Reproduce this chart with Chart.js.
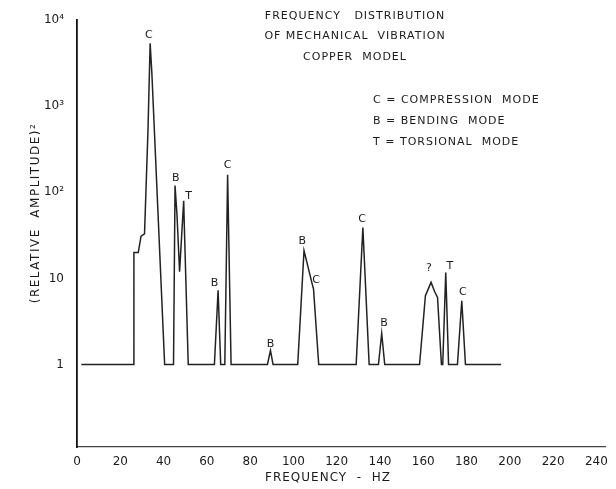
<!DOCTYPE html>
<html>
<head>
<meta charset="utf-8">
<script src="https://cdn.jsdelivr.net/npm/chart.js@4"></script>
<style>
  html, body { margin: 0; padding: 0; background: #fff; }
</style>
</head>
<body>
<canvas id="vibChart" width="616" height="489"></canvas>
<script>
// spectrum trace (Hz, relative amplitude squared)
const freqHz = [2, 26, 26.3, 28.3, 29.6, 31.2, 32.8, 33.8, 34.6, 40.5,
                44.6, 45.3, 46.2, 47.4, 49.3, 49.6, 51.4,
                63.5, 65.2, 66.4, 68.3, 69.6, 71.2,
                88.0, 89.4, 90.6,
                102.0, 104.9, 108.5, 109.3, 111.7,
                129.0, 132.1, 135.0,
                139.3, 140.8, 142.2,
                158.3, 161.0, 163.6, 165.3, 166.6, 168.4,
                169.0, 170.4, 171.7,
                175.8, 177.8, 179.5,
                196.0];
const relAmp = [1, 1, 20, 20, 31, 33, 525, 5400, 2400, 1,
                1, 120, 55, 12, 80, 40, 1,
                1, 7.3, 1, 1, 160, 1,
                1, 1.45, 1,
                1, 21, 9, 7.5, 1,
                1, 39, 1,
                1, 2.3, 1,
                1, 6.3, 9, 7, 6, 1,
                1, 11.7, 1,
                1, 5.5, 1,
                1];

const xTicks = [0, 20, 40, 60, 80, 100, 120, 140, 160, 180, 200, 220, 240];
const yTicks = [1, 10, 100, 1000, 10000];
const yTickText = ['1', '10', '10\u00b2', '10\u00b3', '10\u2074'];

// mode letters and where they sit (data units)
const peakNames = ['C', 'B', 'T', 'B', 'C', 'B', 'B', 'C', 'C', 'B', '?', 'T', 'C'];
const peakFreq  = [33.2, 45.6, 51.6, 63.6, 69.6, 89.4, 104.1, 110.5, 131.7, 141.9, 162.6, 172.3, 178.3];
const peakAmp   = [6700, 145, 90, 8.7, 206, 1.71, 27, 9.5, 48.5, 3.0, 13, 13.8, 6.9];

const titleLines = ['FREQUENCY   DISTRIBUTION', 'OF MECHANICAL  VIBRATION', 'COPPER  MODEL'];
const legendLines = ['C = COMPRESSION  MODE', 'B = BENDING  MODE', 'T = TORSIONAL  MODE'];

const ink = '#1b1b1b';
const font = '"DejaVu Sans", sans-serif';

const textLayer = {
    id: 'textLayer',
    afterDraw(chart) {
        const ctx = chart.ctx;
        const x = chart.scales.x;
        const y = chart.scales.y;
        ctx.save();
        ctx.fillStyle = ink;
        ctx.textBaseline = 'middle';

        ctx.font = '11px ' + font;
        ctx.textAlign = 'center';
        peakNames.forEach(function(n, i) {
            ctx.fillText(n, x.getPixelForValue(peakFreq[i]), y.getPixelForValue(peakAmp[i]));
        });

        ctx.letterSpacing = '1px';
        titleLines.forEach(function(t, i) {
            ctx.fillText(t, 355, 16 + i * 20.5);
        });

        ctx.textAlign = 'left';
        legendLines.forEach(function(t, i) {
            ctx.fillText(t, 373, 100 + i * 21);
        });

        // axis titles
        ctx.font = '12px ' + font;
        ctx.textAlign = 'center';
        ctx.fillText('FREQUENCY  -  HZ', 328, 478);

        ctx.translate(36, 213);
        ctx.rotate(-Math.PI / 2);
        ctx.letterSpacing = '1.5px';
        ctx.fillText('(RELATIVE  AMPLITUDE)\u00b2', 0, 0);
        ctx.restore();
    }
};

new Chart(document.getElementById('vibChart').getContext('2d'), {
    type: 'line',
    data: {
        datasets: [{
            data: freqHz.map(function(f, i) { return { x: f, y: relAmp[i] }; }),
            borderColor: '#222',
            borderWidth: 1.5,
            pointRadius: 0,
            tension: 0,
            fill: false
        }]
    },
    options: {
        responsive: false,
        animation: false,
        devicePixelRatio: 1,
        layout: { padding: { left: 0, right: 10, top: 20, bottom: 0 } },
        plugins: {
            legend: { display: false },
            tooltip: { enabled: false }
        },
        scales: {
            x: {
                type: 'linear',
                min: 0,
                max: 244.2,
                afterBuildTicks: function(scale) {
                    scale.ticks = xTicks.map(function(v) { return { value: v }; });
                },
                afterFit: function(scale) { scale.height = 42; },
                grid: { display: false, drawTicks: false },
                border: { display: true, color: '#444', width: 1.2 },
                ticks: {
                    color: ink,
                    padding: 8,
                    maxRotation: 0,
                    font: { family: font, size: 12 }
                }
            },
            y: {
                type: 'logarithmic',
                min: 0.11,
                max: 10000,
                afterBuildTicks: function(scale) {
                    scale.ticks = yTicks.map(function(v) { return { value: v }; });
                },
                afterFit: function(scale) { scale.width = 77; },
                grid: { display: false, drawTicks: false },
                border: { display: true, color: '#111', width: 1.8 },
                ticks: {
                    color: ink,
                    padding: 13,
                    font: { family: font, size: 12 },
                    callback: function(v) {
                        const i = yTicks.indexOf(v);
                        return i >= 0 ? yTickText[i] : '';
                    }
                }
            }
        }
    },
    plugins: [textLayer]
});
</script>
</body>
</html>
